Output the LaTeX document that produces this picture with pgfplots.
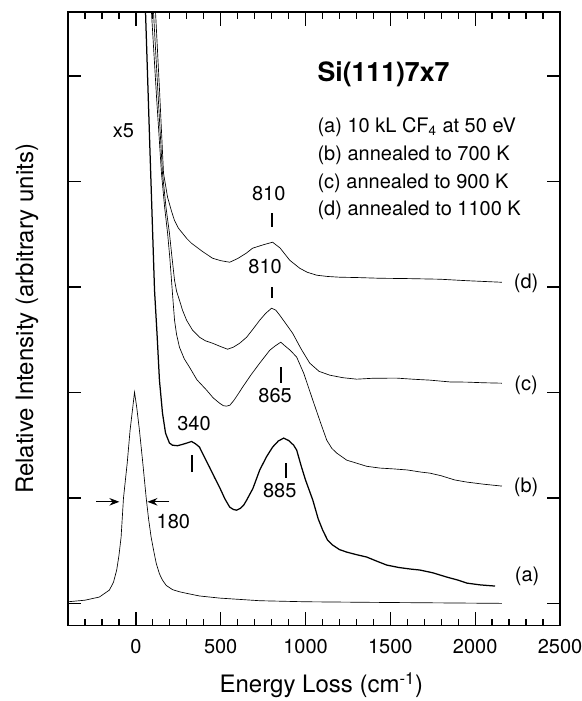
\documentclass[border=0pt]{standalone}
\usepackage{fontspec}
\setmainfont{TeX Gyre Heros}
\usepackage{pgfplots}
\pgfplotsset{compat=1.18}
\usetikzlibrary{arrows.meta}

\begin{document}
\begin{tikzpicture}
\begin{axis}[
  name=ax,
  scale only axis,
  width=295.2pt, height=367.9pt,
  xmin=-400, xmax=2500,
  ymin=-0.21, ymax=5.605,
  xtick={0,500,...,2500},
  minor xtick={-300,-200,...,2400},
  ytick={0,1,...,5},
  yticklabels={},
  xmajorticks=true, xminorticks=true,
  tick align=inside,
  xtick style={draw=black, line width=0.8pt},
  ytick style={draw=black, line width=0.8pt},
  major tick length=8pt,
  minor tick length=4pt,
  axis line style={line width=1pt},
  /pgf/number format/assume math mode=true,
  /pgf/number format/1000 sep={},
  xticklabel style={font=\fontsize{12}{14}\selectfont, yshift=-4.8pt},
  every axis x label/.style={at={(axis description cs:0.515,-0.110)}, anchor=base, font=\fontsize{14.4}{17}\selectfont},
  every axis y label/.style={at={(axis description cs:-0.0711,0.5)}, rotate=90, anchor=base, font=\fontsize{14.4}{17}\selectfont},
  xlabel={Energy Loss (cm\textsuperscript{-1})},
  ylabel={Relative Intensity (arbitrary units)},
  cycle list={{black, line width=0.75pt, line join=round, mark=none}},
  no markers,
  clip=true,
]

% elastic peak (x1)
\addplot coordinates {(-400,0.015) (-300,0.03) (-215,0.06) (-156,0.126) (-132,0.2) (-113,0.316)
 (-100,0.45) (-87,0.628) (-73,0.998) (-51,1.330) (-34,1.643) (-18,1.861) (-8,2.003) (5,1.861)
 (21,1.643) (41,1.330) (61,0.998) (75,0.80) (90,0.628) (105,0.50) (120,0.38) (139,0.28)
 (157,0.22) (179,0.17) (216,0.13) (257,0.11) (299,0.095) (375,0.07) (493,0.05) (730,0.025)
 (1000,0.015) (1500,0.008) (2158,0.0)};

% (a) x5
\addplot coordinates {(45,6.3) (57,5.605) (84,4.25) (110,2.97) (125,2.55) (139,2.117) (157,1.804)
 (175,1.614) (198,1.52) (216,1.50) (245,1.495) (269,1.505) (300,1.52) (328,1.535) (350,1.515)
 (375,1.482) (400,1.40) (434,1.292) (465,1.19) (493,1.102) (525,0.99) (553,0.913) (575,0.89)
 (594,0.884) (615,0.90) (635,0.93) (653,0.979) (690,1.09) (730,1.264) (770,1.39) (806,1.482)
 (840,1.54) (871,1.567) (900,1.545) (930,1.50) (948,1.453) (975,1.30) (1000,1.17) (1043,0.979)
 (1075,0.80) (1101,0.695) (1130,0.60) (1160,0.553) (1200,0.51) (1243,0.486) (1300,0.462)
 (1361,0.439) (1420,0.40) (1479,0.363) (1550,0.34) (1620,0.325) (1674,0.316) (1750,0.29)
 (1833,0.249) (1900,0.22) (1951,0.192) (2030,0.175) (2117,0.164)};

% (b)
\addplot coordinates {(80,6.1) (92,5.605) (122,4.8) (151,4.079) (170,3.75) (187,3.51) (200,3.28)
 (210,3.064) (220,2.85) (228,2.685) (240,2.55) (257,2.429) (285,2.32) (316,2.24) (360,2.12)
 (417,2.022) (455,1.95) (493,1.899) (515,1.875) (535,1.87) (555,1.88) (580,1.93) (605,1.99)
 (629,2.05) (680,2.17) (730,2.278) (760,2.34) (789,2.40) (820,2.44) (854,2.477) (880,2.44)
 (910,2.40) (948,2.335) (990,2.18) (1043,1.927) (1085,1.73) (1125,1.548) (1155,1.47)
 (1184,1.425) (1243,1.358) (1300,1.33) (1360,1.30) (1438,1.283) (1520,1.275) (1600,1.265)
 (1680,1.245) (1733,1.235) (1800,1.21) (1880,1.17) (1951,1.15) (2050,1.13) (2158,1.112)};

% (c)
\addplot coordinates {(90,6.1) (104,5.605) (130,4.85) (157,4.079) (178,3.75) (198,3.51) (213,3.28)
 (228,3.064) (240,2.96) (257,2.875) (275,2.78) (299,2.685) (334,2.591) (375,2.524) (410,2.49)
 (452,2.467) (500,2.435) (541,2.41) (575,2.43) (612,2.467) (653,2.524) (690,2.60) (730,2.685)
 (765,2.75) (800,2.799) (825,2.78) (848,2.733) (885,2.65) (924,2.562) (975,2.41) (1025,2.278)
 (1080,2.20) (1143,2.164) (1220,2.14) (1302,2.126) (1400,2.135) (1538,2.136) (1640,2.125)
 (1733,2.117) (1850,2.10) (1951,2.098) (2050,2.092) (2158,2.088)};

% (d)
\addplot coordinates {(100,6.1) (116,5.605) (140,4.85) (163,4.079) (187,3.851) (210,3.72) (228,3.63)
 (250,3.56) (275,3.51) (300,3.46) (328,3.415) (390,3.34) (452,3.273) (500,3.25) (553,3.235)
 (600,3.27) (650,3.32) (688,3.368) (750,3.40) (806,3.425) (850,3.37) (907,3.254) (966,3.178)
 (1010,3.14) (1066,3.112) (1130,3.10) (1202,3.093) (1300,3.09) (1438,3.083) (1600,3.08)
 (1792,3.074) (1950,3.06) (2158,3.045)};

% annotations
\begin{scope}[every node/.style={inner sep=0pt, font=\fontsize{12}{14}\selectfont}]
\node[anchor=base west, font=\fontsize{16}{19}\selectfont\bfseries] at (axis cs:1069,4.951) {Si(111)7x7};
\node[anchor=base west] at (axis cs:1069,4.470) {(a) 10 kL CF\textsubscript{4} at 50 eV};
\node[anchor=base west] at (axis cs:1069,4.202) {(b) annealed to 700 K};
\node[anchor=base west] at (axis cs:1069,3.934) {(c) annealed to 900 K};
\node[anchor=base west] at (axis cs:1069,3.681) {(d) annealed to 1100 K};

\node[anchor=base] at (axis cs:-73,4.419) {x5};
\node[anchor=base] at (axis cs:783,3.823) {810};
\node[anchor=base] at (axis cs:762,3.131) {810};
\node[anchor=base] at (axis cs:821,1.908) {865};
\node[anchor=base] at (axis cs:848,1.008) {885};
\node[anchor=base] at (axis cs:343,1.643) {340};
\node[anchor=base west] at (axis cs:121,0.714) {180};

\node at (axis cs:2300,3.036) {(d)};
\node at (axis cs:2300,2.069) {(c)};
\node at (axis cs:2300,1.105) {(b)};
\node at (axis cs:2306,0.252) {(a)};
\end{scope}

\draw[line width=1.2pt] (axis cs:805,3.57) -- (axis cs:805,3.70);
\draw[line width=1.2pt] (axis cs:800,2.894) -- (axis cs:800,3.0);
\draw[line width=1.2pt] (axis cs:853,2.09) -- (axis cs:853,2.24);
\draw[line width=1.2pt] (axis cs:883,1.19) -- (axis cs:883,1.33);
\draw[line width=1.2pt] (axis cs:328,1.245) -- (axis cs:328,1.406);

\draw[line width=0.75pt, -{Stealth[length=6pt,width=4.5pt]}] (axis cs:-233,0.963) -- (axis cs:-97,0.963);
\draw[line width=0.75pt, -{Stealth[length=6pt,width=4.5pt]}] (axis cs:198,0.963) -- (axis cs:68,0.963);

\end{axis}
\pgfresetboundingbox
\path[use as bounding box] ([xshift=-40.8pt,yshift=-45.3pt]ax.south west) rectangle ([xshift=13.2pt,yshift=7.4pt]ax.north east);
\end{tikzpicture}
\end{document}
